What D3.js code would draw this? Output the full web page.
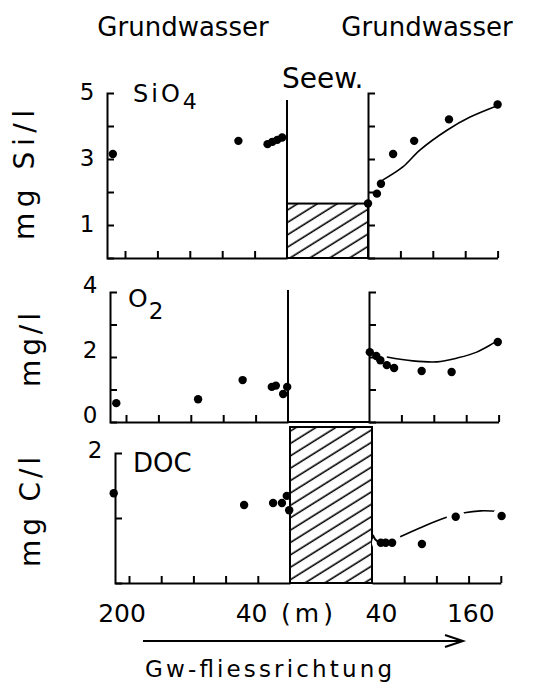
<!DOCTYPE html>
<html>
<head>
<meta charset="utf-8">
<script src="https://cdn.jsdelivr.net/npm/d3@7"></script>
<style>
  body { margin: 0; background: #fff; }
  svg { display: block; }
  text { font-family: "DejaVu Sans", sans-serif; fill: #000; }
</style>
</head>
<body>
<div id="chart"></div>
<script>
// distances in m from the lake (left = upstream, right = downstream)
var siLeftDist  = [215, 60, 24, 18, 12, 6];
var siLeftVal   = [3.15, 3.55, 3.45, 3.52, 3.58, 3.65];
var siRightDist = [0, 11, 16, 31, 57, 100, 160];
var siRightVal  = [1.65, 1.95, 2.25, 3.15, 3.55, 4.2, 4.65];
var siFitDist   = [18, 43, 64, 98, 126, 158];
var siFitVal    = [2.36, 2.76, 3.27, 3.88, 4.27, 4.6];
var siLake      = 1.65;

var o2LeftDist  = [212, 111, 56, 20, 15, 6, 1];
var o2LeftVal   = [0.58, 0.7, 1.29, 1.08, 1.12, 0.86, 1.08];
var o2RightDist = [1, 9, 14, 22, 31, 65, 102, 159];
var o2RightVal  = [2.15, 2.03, 1.9, 1.75, 1.66, 1.57, 1.54, 2.46];
var o2FitDist   = [22, 54, 84, 109, 133, 158];
var o2FitVal    = [2.0, 1.88, 1.85, 1.97, 2.15, 2.49];

var docLeftDist  = [219, 57, 21, 10, 4, 1];
var docLeftVal   = [1.38, 1.2, 1.23, 1.23, 1.34, 1.12];
var docRightDist = [11, 17, 25, 62, 104, 161];
var docRightVal  = [0.62, 0.62, 0.62, 0.6, 1.02, 1.03];
var docFitDist   = [35, 60, 90, 104, 115, 135, 160];
var docFitVal    = [0.71, 0.85, 1.0, 1.04, 1.08, 1.11, 1.1];
var docHookDist  = [1, 4, 9];
var docHookVal   = [0.74, 0.67, 0.62];
var docLakeTop   = 2.4;

var leftTicks  = [40, 80, 120, 160, 200];
var rightTicks = [40, 80, 120, 160];
var xLabelsLeft  = [200, 40];
var xLabelsRight = [40, 160];

var W = 551, H = 686;
var svg = d3.select("#chart").append("svg").attr("width", W).attr("height", H);

var defs = svg.append("defs");
defs.append("pattern")
    .attr("id", "hatch")
    .attr("patternUnits", "userSpaceOnUse")
    .attr("width", 10.5).attr("height", 10.5)
    .attr("patternTransform", "rotate(-32)")
  .append("line")
    .attr("x1", -1).attr("x2", 12).attr("y1", 5).attr("y2", 5)
    .attr("stroke", "#000").attr("stroke-width", 1.6);

function zip(a, b) { return a.map(function(d, i) { return [d, b[i]]; }); }

function styleAxis(g) {
    g.selectAll("path, line").attr("stroke", "#000").attr("stroke-width", 2);
    g.selectAll("text").remove();
}

function panel(o) {
    var y = d3.scaleLinear().domain([0, o.ymax]).range([o.y0, o.y1]);
    var xl = d3.scaleLinear().domain([0, 200]).range([o.lz, o.lz - 200 * o.k]);
    var xr = d3.scaleLinear().domain([0, 160]).range([o.rz, o.rz + 160 * o.k]);
    var g = svg.append("g");

    // left y axis
    g.append("g").attr("transform", "translate(" + o.ax + ",0)")
        .call(d3.axisRight(y).tickValues(d3.range(1, o.ymax)).tickSize(7).tickSizeOuter(7).tickFormat(""))
        .call(styleAxis);

    // left x axis, extended up to the y axis
    var xlExt = xl.copy().domain([0, xl.invert(o.ax)]).range([o.lz, o.ax]);
    g.append("g").attr("transform", "translate(0," + o.y0 + ")")
        .call(d3.axisTop(xlExt).tickValues(leftTicks).tickSize(7).tickSizeOuter(0).tickFormat(""))
        .call(styleAxis);

    // right x axis
    g.append("g").attr("transform", "translate(0," + o.y0 + ")")
        .call(d3.axisTop(xr).tickValues(rightTicks).tickSize(7).tickSizeOuter(0).tickFormat(""))
        .call(styleAxis);

    if (o.lake === "open") {
        g.append("line").attr("x1", o.lz).attr("x2", o.rz).attr("y1", o.y0).attr("y2", o.y0)
            .attr("stroke", "#000").attr("stroke-width", 2);
        g.append("line").attr("x1", o.lz).attr("x2", o.lz).attr("y1", o.y1 + o.lakeGap).attr("y2", o.y0)
            .attr("stroke", "#000").attr("stroke-width", 2);
        g.append("g").attr("transform", "translate(" + o.rz + ",0)")
            .call(d3.axisRight(y).tickValues(d3.range(1, o.ymax)).tickSize(7).tickSizeOuter(7).tickFormat(""))
            .call(styleAxis);
    }
    if (o.hatchTop != null) {
        g.append("rect")
            .attr("x", o.lz).attr("width", o.rz - o.lz)
            .attr("y", y(o.hatchTop)).attr("height", o.y0 - y(o.hatchTop))
            .attr("fill", "url(#hatch)").attr("stroke", "#000").attr("stroke-width", 2);
    }

    // y tick labels
    g.selectAll(".yl").data(o.yLabels).enter().append("text")
        .attr("x", o.ax - 20).attr("y", function(d) { return y(d) + o.labDy; })
        .attr("text-anchor", "middle").attr("dominant-baseline", "central")
        .attr("font-size", 23).text(function(d) { return d; });

    var line = d3.line().curve(d3.curveCatmullRom.alpha(0.5))
        .x(function(d) { return xr(d[0]); }).y(function(d) { return y(d[1]); });

    g.append("path").datum(zip(o.fitDist, o.fitVal)).attr("d", line)
        .attr("fill", "none").attr("stroke", "#000").attr("stroke-width", 1.6);

    if (o.halo) {
        g.selectAll(".halo").data(zip(o.rightDist, o.rightVal)).enter().append("circle")
            .attr("cx", function(d) { return xr(d[0]); }).attr("cy", function(d) { return y(d[1]); })
            .attr("r", o.halo).attr("fill", "#fff");
    }
    if (o.hookDist) {
        g.append("path").datum(zip(o.hookDist, o.hookVal)).attr("d", line)
            .attr("fill", "none").attr("stroke", "#000").attr("stroke-width", 2);
    }

    g.selectAll(".dl").data(zip(o.leftDist, o.leftVal)).enter().append("circle")
        .attr("cx", function(d) { return xl(d[0]); }).attr("cy", function(d) { return y(d[1]); })
        .attr("r", 4.2).attr("fill", "#000");
    g.selectAll(".dr").data(zip(o.rightDist, o.rightVal)).enter().append("circle")
        .attr("cx", function(d) { return xr(d[0]); }).attr("cy", function(d) { return y(d[1]); })
        .attr("r", 4.2).attr("fill", "#000");

    return { xl: xl, xr: xr, y: y };
}

var siPanel = panel({ ymax: 5, y0: 258, y1: 93, lz: 287, rz: 368, ax: 107, k: 0.81,
    lake: "open", lakeGap: 7, hatchTop: siLake, yLabels: [5, 3, 1], labDy: -1,
    leftDist: siLeftDist, leftVal: siLeftVal, rightDist: siRightDist, rightVal: siRightVal,
    fitDist: siFitDist, fitVal: siFitVal });

panel({ ymax: 4, y0: 422, y1: 292, lz: 288, rz: 369, ax: 110, k: 0.81,
    lake: "open", lakeGap: -2, hatchTop: null, yLabels: [4, 2, 0], labDy: -7,
    leftDist: o2LeftDist, leftVal: o2LeftVal, rightDist: o2RightDist, rightVal: o2RightVal,
    fitDist: o2FitDist, fitVal: o2FitVal });

panel({ ymax: 2, y0: 583, y1: 453, lz: 290, rz: 372, ax: 115, k: 0.805,
    lake: "hatch", hatchTop: docLakeTop, yLabels: [2], labDy: -3,
    leftDist: docLeftDist, leftVal: docLeftVal, rightDist: docRightDist, rightVal: docRightVal,
    fitDist: docFitDist, fitVal: docFitVal, halo: 9, hookDist: docHookDist, hookVal: docHookVal });

// panel titles
var t1 = svg.append("text").attr("x", 133).attr("y", 102).attr("font-size", 24)
    .attr("letter-spacing", 3).text("SiO");
t1.append("tspan").attr("dy", 7).attr("font-size", 22).text("4");
var t2 = svg.append("text").attr("x", 128).attr("y", 307).attr("font-size", 25).text("O");
t2.append("tspan").attr("dx", 1).attr("dy", 12).attr("font-size", 23).text("2");
svg.append("text").attr("x", 133).attr("y", 472).attr("font-size", 26).text("DOC");

// y axis titles
[["mg Si/l", 34, 175, 130], ["mg/l", 40, 350, 74], ["mg C/l", 40, 512, 110]].forEach(function(d) {
    svg.append("text")
        .attr("transform", "translate(" + d[1] + "," + d[2] + ") rotate(-90)")
        .attr("text-anchor", "middle").attr("font-size", 28)
        .attr("textLength", d[3]).attr("lengthAdjust", "spacing")
        .text(d[0]);
});

// top labels
svg.append("text").attr("x", 183).attr("y", 36).attr("text-anchor", "middle").attr("font-size", 26).text("Grundwasser");
svg.append("text").attr("x", 427).attr("y", 36).attr("text-anchor", "middle").attr("font-size", 26).text("Grundwasser");
svg.append("text").attr("x", 282).attr("y", 88).attr("font-size", 28).text("Seew.");

// distance labels
svg.selectAll(".xll").data(xLabelsLeft).enter().append("text")
    .attr("x", function(d) { return siPanel.xl(d) - 3; }).attr("y", 622)
    .attr("text-anchor", "middle").attr("font-size", 25).text(function(d) { return d; });
svg.selectAll(".xlr").data(xLabelsRight).enter().append("text")
    .attr("x", function(d) { return siPanel.xr(d) - 3; }).attr("y", 622)
    .attr("text-anchor", "end").attr("font-size", 25).text(function(d) { return d; });
svg.append("text").attr("x", 281).attr("y", 622).attr("font-size", 25)
    .attr("textLength", 52).attr("lengthAdjust", "spacing").text("(m)");

// flow arrow
svg.append("line").attr("x1", 143).attr("x2", 463).attr("y1", 641).attr("y2", 641)
    .attr("stroke", "#000").attr("stroke-width", 2);
svg.append("path").attr("d", "M445,635L463,641L445,647")
    .attr("fill", "none").attr("stroke", "#000").attr("stroke-width", 2);
svg.append("text").attr("x", 145).attr("y", 677).attr("font-size", 23)
    .attr("textLength", 247).attr("lengthAdjust", "spacing").text("Gw-fliessrichtung");
</script>
</body>
</html>
